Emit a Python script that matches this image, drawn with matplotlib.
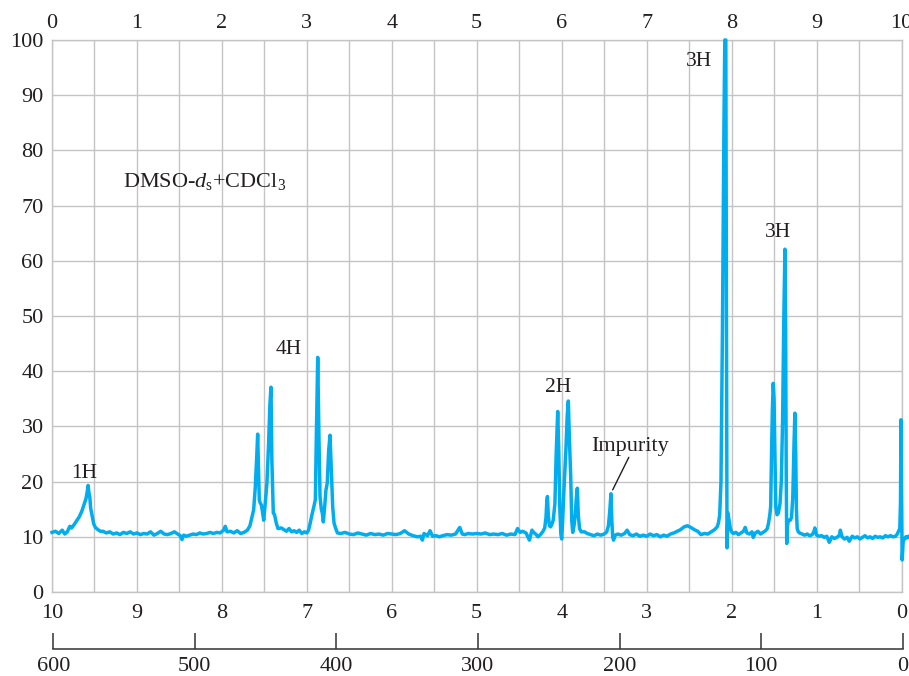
import numpy as np
import matplotlib
matplotlib.use("Agg")
import matplotlib.pyplot as plt

plt.rcParams['font.family'] = ['Liberation Serif', 'DejaVu Serif']
plt.rcParams['mathtext.fontset'] = 'custom'
plt.rcParams['mathtext.rm'] = 'Liberation Serif'
plt.rcParams['mathtext.it'] = 'Liberation Serif:italic'

# ---- spectrum trace (chemical shift in ppm, relative intensity) ----
# 1H signal near 9.6 ppm
ald_ppm = [10.00, 9.96, 9.92, 9.88, 9.85, 9.82, 9.79, 9.77, 9.74, 9.71, 9.68, 9.65,
           9.62, 9.60, 9.585, 9.575, 9.565, 9.555, 9.545, 9.53, 9.51, 9.49, 9.46, 9.43]
ald_int = [10.8, 11.0, 10.6, 11.2, 10.5, 10.9, 11.9, 11.6, 12.2, 12.9, 13.6, 14.6,
           16.0, 16.9, 18.2, 19.3, 18.0, 17.2, 15.2, 14.0, 12.4, 11.7, 11.3, 11.0]

base1_ppm = [9.40, 9.36, 9.32, 9.28, 9.24, 9.20, 9.16, 9.12, 9.08, 9.04, 9.00, 8.96,
             8.92, 8.88, 8.84, 8.80, 8.76, 8.72, 8.68, 8.64, 8.60, 8.56, 8.52, 8.49,
             8.47, 8.45, 8.42, 8.38, 8.34, 8.30, 8.26, 8.22, 8.18, 8.14, 8.10, 8.06,
             8.02, 7.98, 7.96, 7.94, 7.90, 7.86, 7.82, 7.78, 7.74, 7.70]
base1_int = [11.0, 10.7, 10.9, 10.5, 10.7, 10.4, 10.8, 10.6, 10.9, 10.5, 10.7, 10.4,
             10.6, 10.5, 10.9, 10.3, 10.6, 11.0, 10.5, 10.4, 10.6, 10.9, 10.5, 10.2,
             9.5, 10.3, 10.1, 10.3, 10.5, 10.4, 10.7, 10.5, 10.6, 10.8, 10.6, 10.8,
             10.7, 11.2, 11.9, 10.9, 11.0, 10.7, 11.1, 10.6, 10.8, 11.2]

# aromatic 4H, first half
aro1_ppm = [7.67, 7.645, 7.626, 7.607, 7.59, 7.579, 7.568, 7.56, 7.548, 7.536, 7.52,
            7.508, 7.49, 7.47, 7.45, 7.435, 7.422, 7.412, 7.395, 7.38, 7.36, 7.34]
aro1_int = [12.0, 13.6, 14.9, 19.0, 24.5, 28.6, 22.0, 16.7, 16.1, 15.8, 14.3,
            13.0, 16.0, 19.7, 27.0, 34.0, 37.1, 24.0, 14.3, 14.0, 12.5, 11.5]

base2_ppm = [7.30, 7.27, 7.24, 7.21, 7.18, 7.15, 7.12, 7.09, 7.06, 7.03, 7.00]
base2_int = [11.6, 11.3, 11.0, 11.5, 10.9, 11.1, 10.8, 11.2, 10.6, 10.9, 10.7]

# aromatic 4H, second half
aro2_ppm = [6.98, 6.96, 6.94, 6.92, 6.90, 6.889, 6.872, 6.857, 6.845, 6.83, 6.818,
            6.806, 6.79, 6.775, 6.76, 6.743, 6.727, 6.71, 6.696, 6.68, 6.66, 6.64]
aro2_int = [11.2, 12.5, 14.0, 15.3, 16.7, 27.5, 42.5, 27.5, 17.3, 15.0, 14.3,
            12.7, 15.5, 18.5, 19.7, 25.7, 28.4, 21.5, 15.5, 12.5, 11.5, 10.7]

base3_ppm = [6.60, 6.55, 6.50, 6.45, 6.40, 6.35, 6.30, 6.25, 6.20, 6.15, 6.10, 6.05,
             6.00, 5.95, 5.90, 5.85, 5.80, 5.75, 5.70, 5.66, 5.64, 5.62, 5.58, 5.55,
             5.52, 5.48, 5.44, 5.40, 5.35, 5.30, 5.25, 5.20, 5.17, 5.14, 5.10, 5.05,
             5.00, 4.95, 4.90, 4.85, 4.80, 4.75, 4.70, 4.65, 4.60, 4.55, 4.52, 4.49,
             4.46, 4.42, 4.38, 4.35, 4.33]
base3_int = [10.6, 10.8, 10.5, 10.4, 10.7, 10.5, 10.3, 10.6, 10.4, 10.5, 10.3, 10.6,
             10.5, 10.4, 10.6, 11.1, 10.5, 10.2, 10.0, 10.1, 9.4, 10.6, 10.2, 11.1,
             10.1, 10.2, 10.0, 10.2, 10.4, 10.3, 10.5, 11.7, 10.5, 10.4, 10.6, 10.5,
             10.6, 10.5, 10.7, 10.4, 10.5, 10.4, 10.6, 10.3, 10.5, 10.4, 11.5, 10.8,
             11.0, 10.7, 9.4, 11.2, 10.8]

# 2H multiplet near 4 ppm
ch2_ppm = [4.30, 4.28, 4.25, 4.22, 4.20, 4.185, 4.175, 4.168, 4.158, 4.145, 4.13,
           4.115, 4.10, 4.08, 4.065, 4.047, 4.035, 4.022, 4.01, 4.00, 3.99, 3.975,
           3.95, 3.935, 3.922, 3.91, 3.894, 3.882, 3.87, 3.855, 3.84, 3.828, 3.816,
           3.805, 3.79, 3.77]
ch2_int = [10.4, 10.0, 10.4, 11.0, 11.6, 13.5, 16.5, 17.3, 14.0, 12.0, 11.8,
           12.3, 13.0, 16.0, 25.0, 32.7, 26.0, 15.0, 10.5, 9.6, 12.5, 18.0,
           26.0, 32.0, 34.6, 28.0, 21.0, 13.0, 10.8, 12.0, 14.0, 17.0, 18.8,
           14.0, 11.5, 10.9]

# baseline with the impurity signal
imp_ppm = [3.73, 3.70, 3.66, 3.62, 3.58, 3.54, 3.50, 3.47, 3.45, 3.435, 3.42, 3.41,
           3.40, 3.39, 3.37, 3.34, 3.30, 3.26, 3.23, 3.20, 3.16, 3.12, 3.08, 3.04,
           3.00, 2.96, 2.92, 2.88, 2.84, 2.80, 2.76, 2.72, 2.68, 2.64, 2.60, 2.56,
           2.52, 2.48, 2.44, 2.40, 2.36, 2.32, 2.28, 2.24, 2.20, 2.17]
imp_int = [10.9, 10.6, 10.4, 10.2, 10.5, 10.3, 10.5, 10.9, 12.0, 14.5, 17.8, 13.0,
           10.0, 9.4, 10.3, 10.5, 10.3, 10.6, 11.2, 10.4, 10.2, 10.5, 10.1, 10.3,
           10.1, 10.5, 10.2, 10.4, 10.0, 10.3, 10.1, 10.5, 10.7, 11.0, 11.3, 11.8,
           12.0, 11.7, 11.3, 11.0, 10.4, 10.6, 10.5, 10.9, 11.3, 11.8]

# solvent / methyl singlet near 2.08 ppm
me_ppm = [2.155, 2.14, 2.125, 2.115, 2.108, 2.10, 2.09, 2.08, 2.068, 2.06, 2.054,
          2.043, 2.03, 2.015, 2.00]
me_int = [12.5, 14.0, 20.0, 35.0, 47.0, 65.0, 85.0, 100.0, 100.0, 50.0, 8.0,
          14.3, 13.0, 11.5, 10.9]

base4_ppm = [1.98, 1.95, 1.92, 1.89, 1.86, 1.84, 1.82, 1.79, 1.76, 1.745, 1.72,
             1.69, 1.66, 1.63, 1.60, 1.58]
base4_int = [10.6, 10.8, 10.4, 10.7, 11.0, 11.7, 10.7, 10.5, 10.9, 9.9, 10.7,
             11.0, 10.5, 10.8, 11.1, 11.5]

# 3H multiplet near 1.4 ppm
ch3_ppm = [1.565, 1.55, 1.54, 1.53, 1.52, 1.51, 1.50, 1.49, 1.48, 1.465, 1.45,
           1.43, 1.415, 1.40, 1.385, 1.372, 1.364, 1.357, 1.351, 1.342, 1.33,
           1.31, 1.295, 1.28, 1.265, 1.255, 1.245, 1.237, 1.228, 1.215]
ch3_int = [12.5, 14.0, 15.5, 25.0, 33.0, 37.8, 35.0, 25.0, 15.5, 14.0, 14.3,
           16.0, 20.0, 31.0, 50.0, 62.1, 48.0, 22.0, 8.8, 12.0, 13.0,
           13.0, 13.5, 17.0, 27.0, 32.4, 25.0, 15.0, 11.5, 10.9]

base5_ppm = [1.20, 1.17, 1.14, 1.11, 1.08, 1.05, 1.03, 1.02, 1.00, 0.97, 0.94,
             0.91, 0.88, 0.85, 0.82, 0.79, 0.76, 0.73, 0.72, 0.70, 0.67, 0.64,
             0.615, 0.58, 0.55, 0.52, 0.49, 0.46, 0.43, 0.40, 0.37, 0.34, 0.31,
             0.28, 0.25, 0.22, 0.19, 0.16, 0.13, 0.10, 0.07, 0.05]
base5_int = [10.7, 10.5, 10.3, 10.5, 10.2, 10.4, 11.0, 11.6, 10.3, 10.1, 10.2,
             9.9, 10.1, 9.0, 10.0, 9.7, 9.9, 10.3, 11.2, 10.0, 9.6, 9.9,
             9.2, 10.1, 9.8, 10.0, 9.6, 9.9, 10.2, 9.8, 10.0, 9.7, 10.1,
             9.9, 10.0, 9.8, 10.2, 10.0, 10.2, 10.0, 10.1, 10.5]

# TMS reference
tms_ppm = [0.035, 0.02, 0.012, 0.006, 0.0, -0.008, -0.02, -0.035, -0.05, -0.065,
           -0.08, -0.09]
tms_int = [11.0, 11.5, 16.0, 31.2, 18.0, 5.8, 9.2, 9.6, 10.0, 9.8, 10.1, 10.0]

ppm = np.concatenate([ald_ppm, base1_ppm, aro1_ppm, base2_ppm, aro2_ppm, base3_ppm,
                      ch2_ppm, imp_ppm, me_ppm, base4_ppm, ch3_ppm, base5_ppm, tms_ppm])
intensity = np.concatenate([ald_int, base1_int, aro1_int, base2_int, aro2_int, base3_int,
                            ch2_int, imp_int, me_int, base4_int, ch3_int, base5_int, tms_int])

# integration labels: (text, ppm, intensity)
peak_labels = [("1H", 9.623, 20.6), ("4H", 7.218, 43.1), ("2H", 4.04, 36.3),
               ("3H", 2.384, 95.2), ("3H", 1.45, 64.3)]
impurity_ppm, impurity_int = 3.40, 18.5

hz_ticks = [600, 500, 400, 300, 200, 100, 0]
ppm_ticks = list(range(0, 11))

LINE = "#00adef"
GRID = "#c4c4c4"
TEXT = "#231f20"

fig = plt.figure(figsize=(9.09, 6.76), dpi=100)
ax = fig.add_axes([52 / 909, 84 / 676, 849.5 / 909, 552 / 676])
ax.set_xlim(10, 0)
ax.set_ylim(0, 100)
ax.set_xticks(ppm_ticks)
ax.set_xticks(np.arange(0, 10.01, 0.5), minor=True)
ax.set_yticks(range(0, 101, 10))
ax.grid(which="both", axis="x", color=GRID, lw=1.0)
ax.grid(which="major", axis="y", color=GRID, lw=1.0)
ax.set_axisbelow(True)
for s in ax.spines.values():
    s.set_color(GRID)
    s.set_linewidth(1.0)
ax.tick_params(which="both", length=0, labelsize=16, colors=TEXT)
ax.tick_params(axis="x", pad=8.5)
ax.tick_params(axis="y", pad=6)

top = ax.secondary_xaxis("top", functions=(lambda x: 10 - x, lambda x: 10 - x))
top.set_xticks(ppm_ticks)
top.tick_params(length=0, labelsize=16, colors=TEXT, pad=5)
top.spines["top"].set_visible(False)

ax.plot(ppm, intensity, color=LINE, lw=2.5, solid_joinstyle="round", clip_on=False, zorder=3)

for txt, x, y in peak_labels:
    ax.text(x, y, txt, ha="center", va="baseline", fontsize=15.5, color=TEXT)

ax.text(9.164, 73.4, r"DMSO-$\mathit{d}_{\mathrm{s}}$+CDCl$_3$", ha="left", va="baseline",
        fontsize=16, color=TEXT)

ax.annotate("", xy=(impurity_ppm, impurity_int), xytext=(3.21, 24.4),
            arrowprops=dict(arrowstyle="-", color=TEXT, lw=1.0, shrinkA=0, shrinkB=0))
ax.text(3.196, 25.5, "Impurity", ha="center", va="baseline", fontsize=16, color=TEXT)

# frequency scale (Hz) below the ppm axis
hz = fig.add_axes([53.3 / 909, 27 / 676, 849.4 / 909, 1e-4])
hz.set_xlim(600, 0)
hz.set_xticks(hz_ticks)
hz.set_yticks([])
hz.patch.set_visible(False)
for k in ("top", "left", "right"):
    hz.spines[k].set_visible(False)
hz.spines["bottom"].set_color("#333333")
hz.spines["bottom"].set_linewidth(1.1)
hz.tick_params(axis="x", direction="in", length=11.5, width=1.1, color="#333333",
               labelsize=16, labelcolor=TEXT, pad=6)

fig.savefig("out.png", dpi=100)
